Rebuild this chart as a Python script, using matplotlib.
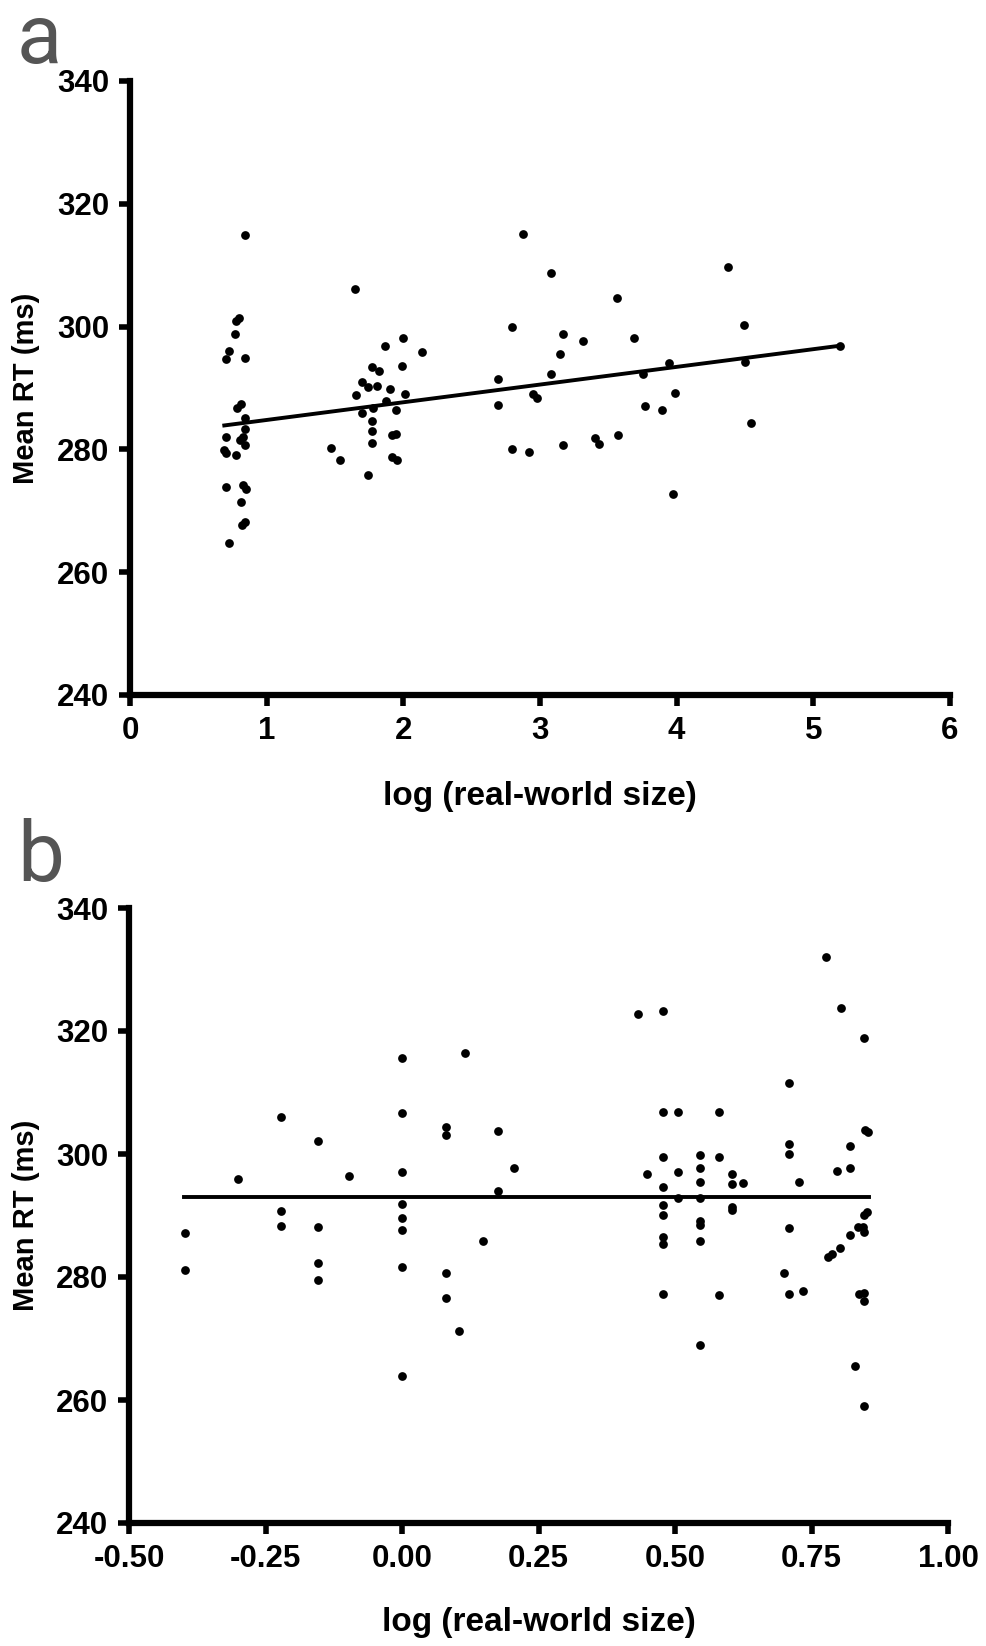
import matplotlib
matplotlib.use("Agg")
import matplotlib.pyplot as plt

# ---------------- data: panel a ----------------
a_x = [0.843, 0.797, 0.773, 0.771, 0.722, 0.700, 0.839, 0.810, 0.785, 0.839,
       0.841, 0.829, 0.805, 0.841, 0.700, 0.690, 0.700, 0.778, 0.700, 0.829,
       0.846, 0.812, 0.819, 0.839, 0.724,
       1.646, 2.000, 1.868, 2.139, 1.768, 1.819, 1.990, 1.697, 1.739, 1.804,
       1.902, 1.653, 2.014, 1.875, 1.775, 1.944, 1.697, 1.768, 1.768, 1.917,
       1.946, 1.768, 1.470, 1.536, 1.917, 1.951, 1.741,
       2.875, 3.080, 3.565, 2.792, 3.170, 3.313, 3.691, 3.146, 3.945, 3.080,
       3.753, 2.690, 2.950, 2.981, 3.989, 2.690, 3.770, 3.896, 3.572, 3.404,
       3.431, 3.170, 2.792, 2.919, 3.975,
       4.372, 4.494, 4.501, 5.197, 4.547]
a_y = [314.9, 301.4, 300.9, 298.8, 296.1, 294.8, 294.9, 287.4, 286.7, 285.1,
       283.3, 282.0, 281.5, 280.7, 282.0, 279.9, 279.4, 279.1, 273.9, 274.2,
       273.6, 271.5, 267.7, 268.1, 264.8,
       306.1, 298.1, 296.8, 295.8, 293.5, 292.8, 293.6, 291.0, 290.1, 290.3,
       289.8, 288.8, 289.0, 287.9, 286.8, 286.4, 286.0, 284.6, 283.0, 282.3,
       282.5, 281.0, 280.3, 278.2, 278.7, 278.3, 275.8,
       315.0, 308.8, 304.7, 300.0, 298.8, 297.7, 298.1, 295.6, 294.1, 292.3,
       292.2, 291.5, 289.0, 288.3, 289.2, 287.2, 287.1, 286.4, 282.3, 281.9,
       280.8, 280.7, 280.0, 279.6, 272.8,
       309.7, 300.3, 294.2, 296.9, 284.3]
a_fit_x = [0.69, 5.20]
a_fit_y = [283.9, 296.9]

# ---------------- data: panel b ----------------
b_x = [-0.397, -0.397, -0.300, -0.222, -0.222, -0.222, -0.154, -0.154, -0.154, -0.154,
       -0.097,
       0.000, 0.000, 0.000, 0.000, 0.000, 0.000, 0.000, 0.000,
       0.115, 0.081, 0.081, 0.081, 0.081, 0.105, 0.148, 0.175, 0.175, 0.205,
       0.433, 0.478,
       0.478, 0.478, 0.478, 0.478, 0.478, 0.478, 0.478, 0.478,
       0.506, 0.506, 0.506,
       0.545, 0.545, 0.545, 0.545, 0.545, 0.545, 0.545, 0.545,
       0.581, 0.581, 0.581,
       0.604, 0.604, 0.604, 0.604,
       0.625, 0.448,
       0.708, 0.708, 0.708, 0.708, 0.708,
       0.700, 0.728, 0.734, 0.777, 0.804, 0.846, 0.848, 0.854,
       0.821, 0.821, 0.821, 0.796, 0.851, 0.847,
       0.836, 0.845, 0.846, 0.803, 0.781, 0.787,
       0.837, 0.847, 0.846, 0.830, 0.846]
b_y = [287.1, 281.2, 296.0, 306.0, 290.8, 288.3, 302.1, 288.2, 282.2, 279.5,
       296.4,
       315.6, 306.6, 297.0, 291.8, 289.6, 287.6, 281.6, 263.9,
       316.4, 304.4, 303.1, 280.7, 276.6, 271.2, 285.8, 303.7, 294.0, 297.8,
       322.7, 323.2,
       306.9, 299.5, 294.6, 291.7, 290.1, 286.5, 285.3, 277.2,
       306.9, 297.0, 292.8,
       299.9, 297.7, 295.4, 292.8, 289.1, 288.5, 285.8, 269.0,
       306.9, 299.5, 277.0,
       296.8, 295.2, 291.4, 290.9,
       295.3, 296.8,
       311.5, 301.6, 300.0, 288.0, 277.3,
       280.6, 295.4, 277.8, 332.1, 323.7, 318.8, 303.9, 303.6,
       301.3, 297.8, 286.8, 297.3, 290.5, 290.1,
       288.2, 288.1, 287.3, 284.7, 283.3, 283.7,
       277.3, 277.4, 276.1, 265.5, 259.1]
b_fit_x = [-0.40, 0.855]
b_fit_y = [293.0, 293.0]

y_ticks = [240, 260, 280, 300, 320, 340]
a_xticks = [0, 1, 2, 3, 4, 5, 6]
a_xticklabels = ["0", "1", "2", "3", "4", "5", "6"]
b_xticks = [-0.50, -0.25, 0.00, 0.25, 0.50, 0.75, 1.00]
b_xticklabels = ["-0.50", "-0.25", "0.00", "0.25", "0.50", "0.75", "1.00"]

xlabel = "log (real-world size)"
ylabel = "Mean RT (ms)"

W, H = 986, 1646
fig = plt.figure(figsize=(W / 100, H / 100), dpi=100)
fig.patch.set_facecolor("white")

bold = dict(family="Liberation Sans", weight="bold")


def style(ax, xlim, xticks, xticklabels):
    for s in ("top", "right"):
        ax.spines[s].set_visible(False)
    for s in ("left", "bottom"):
        ax.spines[s].set_linewidth(4.5)
        ax.spines[s].set_capstyle("projecting")
    ax.set_xlim(*xlim)
    ax.set_ylim(240, 340)
    ax.set_xticks(xticks)
    ax.set_xticklabels(xticklabels, fontsize=22.5, **bold)
    ax.set_yticks(y_ticks)
    ax.set_yticklabels([str(v) for v in y_ticks], fontsize=22.5, **bold)
    ax.tick_params(axis="both", direction="out", length=8, width=4, pad=7)
    ax.patch.set_alpha(0)


# panel a
axa = fig.add_axes([130 / W, 1 - 695 / H, 820 / W, 614 / H])
axa.plot(a_x, a_y, "o", color="black", markersize=6.3, markeredgewidth=0, clip_on=False)
axa.plot(a_fit_x, a_fit_y, "-", color="black", linewidth=2.8)
style(axa, (0, 6), a_xticks, a_xticklabels)
axa.set_xlabel(xlabel, fontsize=24, va="center", **bold)
axa.xaxis.set_label_coords(0.5, (695 - 797) / 614)
axa.set_ylabel(ylabel, fontsize=21, va="center", **bold)
axa.yaxis.set_label_coords((26 - 130) / 820, 0.5)

# panel b
axb = fig.add_axes([129 / W, 1 - 1523 / H, 819 / W, 615 / H])
axb.plot(b_x, b_y, "o", color="black", markersize=6.3, markeredgewidth=0, clip_on=False)
axb.plot(b_fit_x, b_fit_y, "-", color="black", linewidth=2.8)
style(axb, (-0.5, 1.0), b_xticks, b_xticklabels)
axb.set_xlabel(xlabel, fontsize=24, va="center", **bold)
axb.xaxis.set_label_coords(0.5, (1523 - 1622) / 615)
axb.set_ylabel(ylabel, fontsize=21, va="center", **bold)
axb.yaxis.set_label_coords((26 - 129) / 819, 0.5)

# panel letters
fig.text(17 / W, 1 - 63 / H, "a", fontsize=60, color="#555555", family="Roboto",
         ha="left", va="baseline")
fig.text(17 / W, 1 - 881 / H, "b", fontsize=60, color="#555555", family="Roboto",
         ha="left", va="baseline")

fig.savefig("out.png", dpi=100)
